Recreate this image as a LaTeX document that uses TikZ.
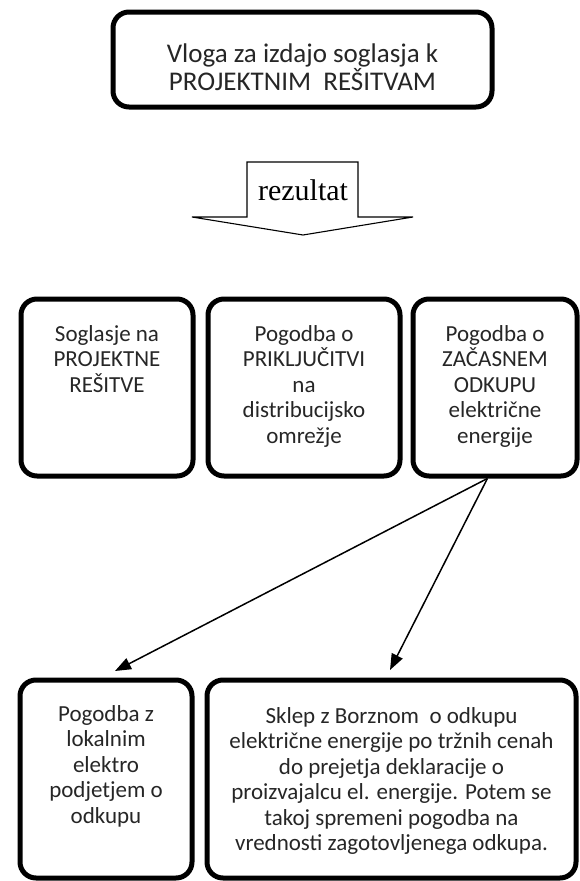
\documentclass[tikz,border=0pt]{standalone}
\usepackage{fontspec}
\setmainfont{Carlito}
\newfontfamily\seriffont{Liberation Serif}
\usetikzlibrary{arrows.meta,calc}
\begin{document}
\begin{tikzpicture}[x=1pt,y=1pt,
  box/.style={draw=black, line width=5pt, rounded corners=16pt, inner sep=0pt},
  boxtext/.style={inner sep=0pt, align=center, anchor=north, font=\fontsize{23}{25.5}\selectfont, text=black!85},
  toptext/.style={inner sep=0pt, align=center, font=\fontsize{27}{26}\selectfont, text=black!85},
  conn/.style={line width=1.5pt, -{Triangle[length=16pt,width=12pt]}},
  blockarrow/.style={draw=black, line width=1.1pt, line join=miter}
]
\useasboundingbox (0,0) rectangle (580,-881);

% top box
\node[box, minimum width=379pt, minimum height=95pt] (top) at (302.5,-59.5) {};
\node[toptext] (toptxt) at (302.5,-67) {Vloga za izdajo soglasja k\\PROJEKTNIM\ \ REŠITVAM};

% block arrow "rezultat"
\coordinate (a1) at (247,-162);
\coordinate (a2) at (358,-162);
\coordinate (a3) at (358,-217);
\coordinate (a4) at (413,-217);
\coordinate (a5) at (303,-235);
\coordinate (a6) at (192,-217);
\coordinate (a7) at (247,-217);
\draw[blockarrow] (a1) -- (a2) -- (a3) -- (a4) -- (a5) -- (a6) -- (a7) -- cycle;
\node[inner sep=0pt, font=\seriffont\fontsize{30}{32}\selectfont] (rez) at (303,-190) {rezultat};

% middle boxes
\node[box, minimum width=172pt, minimum height=177pt] (b1) at (107,-387.5) {};
\node[box, minimum width=192pt, minimum height=177pt] (b2) at (304,-387.5) {};
\node[box, minimum width=164pt, minimum height=177pt] (b3) at (495,-387.5) {};
\node[boxtext] (t1) at (107,-325) {Soglasje na\\PROJEKTNE\\REŠITVE};
\node[boxtext] (t2) at (304,-325) {Pogodba o\\PRIKLJUČITVI\\na\\distribucijsko\\omrežje};
\node[boxtext] (t3) at (495,-325) {Pogodba o\\ZAČASNEM\\ODKUPU\\električne\\energije};

% bottom boxes
\node[box, minimum width=172pt, minimum height=198pt] (b4) at (106,-779) {};
\node[box, minimum width=369pt, minimum height=198pt] (b5) at (391.5,-779) {};
\node[boxtext] (t4) at (106,-705) {Pogodba z\\lokalnim\\elektro\\podjetjem o\\odkupu};
\node[boxtext] (t5) at (391.5,-707) {Sklep z Borznom\ \ o odkupu\\električne energije po tržnih cenah\\do prejetja deklaracije o\\proizvajalcu el. energije. Potem se\\takoj spremeni pogodba na\\vrednosti zagotovljenega odkupa.};

% connectors
\coordinate (src) at ($(b3.south west)!0.455!(b3.south east)$);
\coordinate (e1) at (115,-671);
\coordinate (e2) at (390,-670);
\draw[conn] (src) -- (e1);
\draw[conn] (src) -- (e2);
\end{tikzpicture}
\end{document}
